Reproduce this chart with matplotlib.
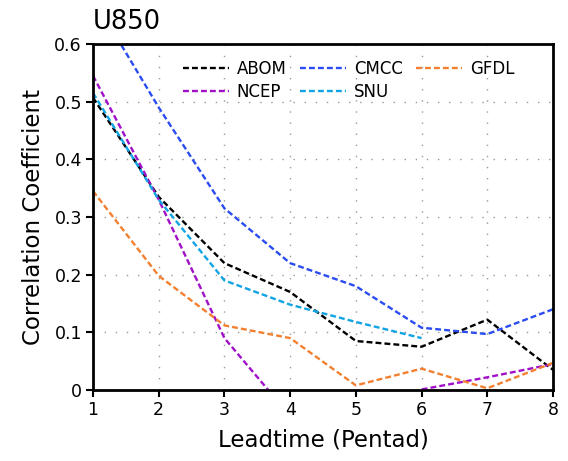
import numpy as np
import matplotlib
matplotlib.use("Agg")
import matplotlib.pyplot as plt

lead = [1, 2, 3, 4, 5, 6, 7, 8]
abom = [0.507, 0.335, 0.220, 0.170, 0.085, 0.075, 0.122, 0.035]
cmcc = [0.680, 0.490, 0.315, 0.220, 0.180, 0.108, 0.097, 0.140]
ncep = [0.545, 0.330, 0.090, -0.045, -0.100, 0.001, 0.022, 0.045]
snu = [0.515, 0.330, 0.190, 0.148, 0.118, 0.090, np.nan, np.nan]
gfdl = [0.345, 0.198, 0.112, 0.090, 0.008, 0.037, 0.003, 0.047]

names = ["ABOM", "NCEP", "CMCC", "SNU", "GFDL"]
series = [abom, ncep, cmcc, snu, gfdl]
colors = ["#000000", "#a010c8", "#2a4cf0", "#10a4e4", "#f28030"]

plt.rcParams['font.family'] = ['DejaVu Sans']
fig = plt.figure(figsize=(5.68, 4.61), dpi=100)
ax = fig.add_axes([93/568, 1-390/461, (553-93)/568, (390-44)/461])

for name, vals, c in zip(names, series, colors):
    ax.plot(lead, vals, color=c, lw=1.7, ls=(0, (2.5, 1.3)), label=name)

ax.set_xlim(1, 8)
ax.set_ylim(0, 0.6)
ax.set_xticks(lead)
ax.set_yticks([0, 0.1, 0.2, 0.3, 0.4, 0.5, 0.6])
ax.set_yticklabels(["0", "0.1", "0.2", "0.3", "0.4", "0.5", "0.6"])
ax.grid(True, color="#999999", ls=(0, (1.0, 7.0)), lw=1.0)
for s in ax.spines.values():
    s.set_linewidth(2)
ax.tick_params(direction="out", length=5, width=1.5, labelsize=12.5, pad=3)
ax.set_xlabel("Leadtime (Pentad)", fontsize=16.5, labelpad=7)
ax.set_ylabel("Correlation Coefficient", fontsize=16.5, labelpad=7)
ax.text(0.0, 1.025, "U850", transform=ax.transAxes, fontsize=18.5, ha="left", va="bottom")

leg = ax.legend(ncol=3, loc="upper left", bbox_to_anchor=(0.195, 0.953), frameon=False,
                fontsize=12, handlelength=2.75, columnspacing=0.8, handletextpad=0.5,
                labelspacing=0.3, borderpad=0, borderaxespad=0)

fig.savefig("out.png", dpi=100)
